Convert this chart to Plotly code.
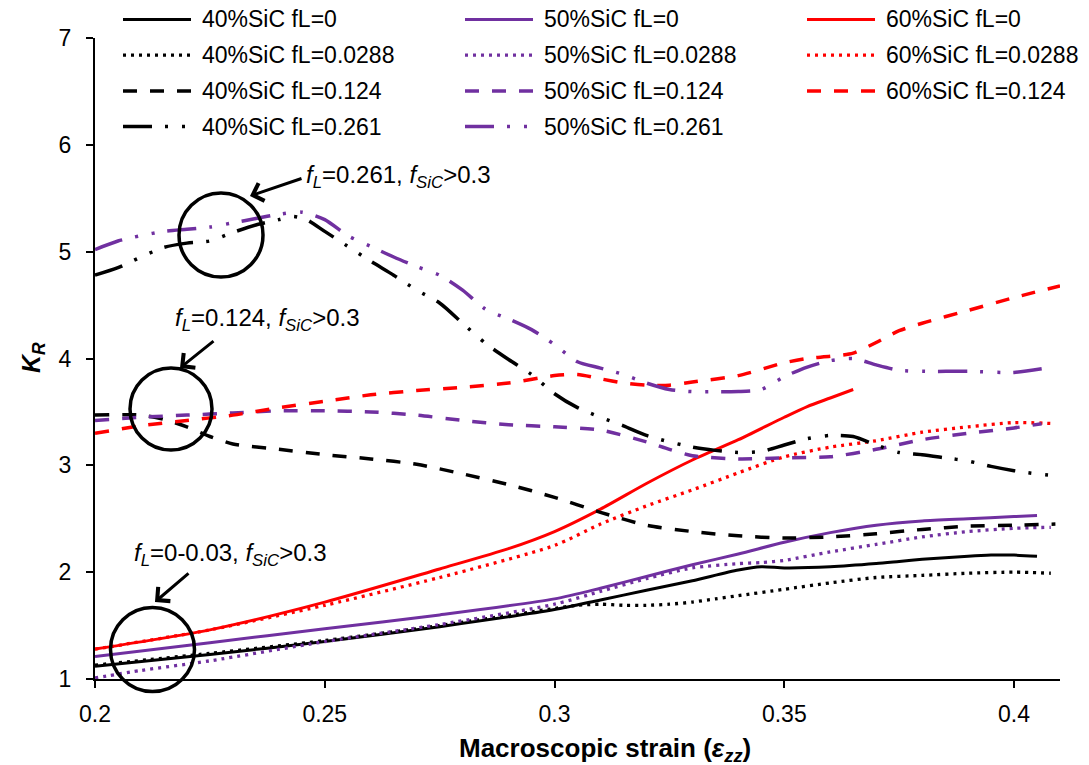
import plotly.graph_objects as go

# ---------------------------------------------------------------------------
# Axis settings
# ---------------------------------------------------------------------------
X_RANGE = [0.2, 0.41]
Y_RANGE = [1, 7]
X_TICKS = [0.2, 0.25, 0.3, 0.35, 0.4]
X_TICK_TEXT = ["0.2", "0.25", "0.3", "0.35", "0.4"]
Y_TICKS = [1, 2, 3, 4, 5, 6, 7]

# ---------------------------------------------------------------------------
# K_R versus macroscopic strain, one pair of arrays per curve
# ---------------------------------------------------------------------------
# 40% SiC
x_40_f0 = [0.2, 0.225, 0.25, 0.275, 0.3, 0.31, 0.32, 0.33, 0.34, 0.345, 0.35,
           0.36, 0.37, 0.375, 0.38, 0.39, 0.395, 0.4, 0.405]
k_40_f0 = [1.12, 1.23, 1.35, 1.49, 1.65, 1.74, 1.83, 1.92, 2.02, 2.05, 2.04,
           2.05, 2.08, 2.10, 2.12, 2.15, 2.16, 2.16, 2.15]

x_40_f0288 = [0.2, 0.225, 0.25, 0.275, 0.3, 0.305, 0.31, 0.315, 0.32, 0.325,
              0.33, 0.335, 0.34, 0.35, 0.36, 0.37, 0.38, 0.39, 0.4, 0.408]
k_40_f0288 = [1.13, 1.24, 1.36, 1.50, 1.66, 1.69, 1.70, 1.69, 1.69, 1.70,
              1.72, 1.75, 1.78, 1.84, 1.90, 1.95, 1.97, 1.99, 2.00, 1.99]

x_40_f124 = [0.2, 0.21, 0.215, 0.22, 0.225, 0.23, 0.24, 0.25, 0.26, 0.27, 0.28,
             0.29, 0.3, 0.31, 0.32, 0.33, 0.34, 0.35, 0.36, 0.37, 0.38, 0.39,
             0.4, 0.409]
k_40_f124 = [3.47, 3.47, 3.43, 3.36, 3.27, 3.20, 3.15, 3.10, 3.06, 3.01, 2.92,
             2.82, 2.70, 2.56, 2.44, 2.38, 2.34, 2.32, 2.33, 2.36, 2.40, 2.43,
             2.44, 2.45]

x_40_f261 = [0.2, 0.205, 0.21, 0.215, 0.22, 0.225, 0.23, 0.235, 0.24, 0.243,
             0.246, 0.25, 0.255, 0.26, 0.265, 0.27, 0.275, 0.28, 0.285, 0.29,
             0.295, 0.3, 0.305, 0.31, 0.315, 0.32, 0.325, 0.33, 0.335, 0.34,
             0.345, 0.35, 0.355, 0.36, 0.365, 0.37, 0.375, 0.38, 0.385, 0.39,
             0.395, 0.4, 0.405, 0.41]
k_40_f261 = [4.78, 4.85, 4.95, 5.04, 5.08, 5.10, 5.18, 5.25, 5.30, 5.33,
             5.30, 5.19, 5.05, 4.91, 4.78, 4.64, 4.52, 4.33, 4.14, 3.99,
             3.85, 3.67, 3.54, 3.45, 3.37, 3.28, 3.22, 3.17, 3.14, 3.12,
             3.13, 3.19, 3.25, 3.28, 3.27, 3.19, 3.12, 3.10, 3.07, 3.04,
             2.99, 2.95, 2.92, 2.90]

# 50% SiC
x_50_f0 = [0.2, 0.225, 0.25, 0.275, 0.3, 0.31, 0.32, 0.33, 0.34, 0.35, 0.36,
           0.37, 0.38, 0.39, 0.4, 0.405]
k_50_f0 = [1.21, 1.34, 1.47, 1.60, 1.75, 1.85, 1.96, 2.07, 2.17, 2.28, 2.37,
           2.44, 2.48, 2.50, 2.52, 2.53]

x_50_f0288 = [0.2, 0.21, 0.225, 0.25, 0.275, 0.3, 0.31, 0.32, 0.33, 0.34,
              0.345, 0.35, 0.36, 0.37, 0.38, 0.39, 0.4, 0.408]
k_50_f0288 = [1.01, 1.08, 1.17, 1.35, 1.51, 1.70, 1.82, 1.94, 2.04, 2.08,
              2.09, 2.11, 2.19, 2.26, 2.33, 2.38, 2.41, 2.42]

x_50_f124 = [0.2, 0.21, 0.22, 0.23, 0.24, 0.25, 0.26, 0.27, 0.28, 0.29, 0.3,
             0.31, 0.32, 0.325, 0.33, 0.34, 0.35, 0.36, 0.37, 0.38, 0.39, 0.4,
             0.406]
k_50_f124 = [3.42, 3.45, 3.47, 3.49, 3.51, 3.51, 3.50, 3.47, 3.42, 3.38, 3.36,
             3.33, 3.22, 3.15, 3.09, 3.06, 3.07, 3.08, 3.15, 3.24, 3.30, 3.35,
             3.39]

x_50_f261 = [0.2, 0.205, 0.21, 0.215, 0.22, 0.225, 0.23, 0.235, 0.24, 0.245,
             0.25, 0.255, 0.26, 0.265, 0.27, 0.275, 0.28, 0.285, 0.29, 0.295,
             0.3, 0.305, 0.31, 0.315, 0.32, 0.325, 0.33, 0.335, 0.34, 0.345,
             0.35, 0.355, 0.36, 0.365, 0.37, 0.375, 0.38, 0.39, 0.4, 0.407]
k_50_f261 = [5.02, 5.10, 5.15, 5.19, 5.21, 5.23, 5.27, 5.31, 5.35, 5.37,
             5.30, 5.15, 5.05, 4.95, 4.86, 4.78, 4.64, 4.46, 4.37, 4.27,
             4.13, 3.97, 3.91, 3.85, 3.77, 3.71, 3.69, 3.69, 3.69, 3.71,
             3.83, 3.92, 3.98, 4.00, 3.94, 3.89, 3.88, 3.88, 3.87, 3.91]

# 60% SiC
x_60_f0 = [0.2, 0.225, 0.25, 0.275, 0.29, 0.3, 0.31, 0.32, 0.33, 0.34, 0.35,
           0.355, 0.36, 0.365]
k_60_f0 = [1.28, 1.46, 1.72, 2.03, 2.22, 2.38, 2.59, 2.83, 3.05, 3.24, 3.45,
           3.55, 3.63, 3.71]

x_60_f0288 = [0.2, 0.225, 0.25, 0.275, 0.3, 0.31, 0.32, 0.33, 0.34, 0.35,
              0.36, 0.37, 0.38, 0.39, 0.4, 0.409]
k_60_f0288 = [1.28, 1.46, 1.69, 1.95, 2.25, 2.45, 2.62, 2.77, 2.93, 3.08,
              3.17, 3.23, 3.31, 3.36, 3.40, 3.39]

x_60_f124 = [0.2, 0.21, 0.22, 0.23, 0.24, 0.25, 0.26, 0.27, 0.28, 0.29, 0.3,
             0.305, 0.31, 0.315, 0.32, 0.325, 0.33, 0.34, 0.35, 0.355, 0.36,
             0.365, 0.37, 0.375, 0.38, 0.39, 0.4, 0.41]
k_60_f124 = [3.30, 3.37, 3.42, 3.47, 3.54, 3.60, 3.66, 3.70, 3.73, 3.77, 3.84,
             3.85, 3.81, 3.77, 3.75, 3.75, 3.78, 3.84, 3.96, 4.00, 4.02,
             4.05, 4.15, 4.26, 4.33, 4.45, 4.57, 4.68]

# ---------------------------------------------------------------------------
# Styling
# ---------------------------------------------------------------------------
BLACK = "#000000"
PURPLE = "#7030A0"
RED = "#FF0000"
FONT = "Arial, Liberation Sans, sans-serif"

LINE_STYLES = {
    "solid": dict(dash="solid", width=3),
    "dot": dict(dash="3px,5px", width=3.3),
    "dash": dict(dash="14px,13px", width=3.5),
    "dashdotdot": dict(dash="29px,13px,3px,14px,3px,13px", width=3.5),
}

# (label, x, y, colour, style, legend column, legend row)
SERIES = [
    ("40%SiC fL=0", x_40_f0, k_40_f0, BLACK, "solid", 0, 0),
    ("50%SiC fL=0", x_50_f0, k_50_f0, PURPLE, "solid", 1, 0),
    ("60%SiC fL=0", x_60_f0, k_60_f0, RED, "solid", 2, 0),
    ("40%SiC fL=0.0288", x_40_f0288, k_40_f0288, BLACK, "dot", 0, 1),
    ("50%SiC fL=0.0288", x_50_f0288, k_50_f0288, PURPLE, "dot", 1, 1),
    ("60%SiC fL=0.0288", x_60_f0288, k_60_f0288, RED, "dot", 2, 1),
    ("40%SiC fL=0.124", x_40_f124, k_40_f124, BLACK, "dash", 0, 2),
    ("50%SiC fL=0.124", x_50_f124, k_50_f124, PURPLE, "dash", 1, 2),
    ("60%SiC fL=0.124", x_60_f124, k_60_f124, RED, "dash", 2, 2),
    ("40%SiC fL=0.261", x_40_f261, k_40_f261, BLACK, "dashdotdot", 0, 3),
    ("50%SiC fL=0.261", x_50_f261, k_50_f261, PURPLE, "dashdotdot", 1, 3),
]

# Figure geometry (pixels)
WIDTH, HEIGHT = 1089, 765
PLOT_L, PLOT_T, PLOT_R, PLOT_B = 95, 38, 1060, 679
PLOT_W = PLOT_R - PLOT_L
PLOT_H = PLOT_B - PLOT_T


def px(xp):
    """Horizontal pixel position -> paper fraction."""
    return (xp - PLOT_L) / PLOT_W


def py(yp):
    """Vertical pixel position (from top) -> paper fraction."""
    return (PLOT_B - yp) / PLOT_H


fig = go.Figure()

for name, xs, ys, color, style, _, _ in SERIES:
    st = LINE_STYLES[style]
    fig.add_trace(go.Scatter(
        x=xs, y=ys, name=name, mode="lines",
        line=dict(color=color, width=st["width"], dash=st["dash"],
                  shape="spline", smoothing=0.7),
        showlegend=False, hoverinfo="x+y+name",
    ))

shapes = []
annotations = []

# Legend: three columns of line samples with labels
LEG_COL_X = [123, 465, 807]
LEG_ROW_Y = [19.5, 55.2, 90.9, 126.6]
LEG_SAMPLE = 68
LEG_TEXT_GAP = 77
for name, _, _, color, style, col, row in SERIES:
    st = LINE_STYLES[style]
    x0 = LEG_COL_X[col]
    yy = LEG_ROW_Y[row]
    shapes.append(dict(
        type="line", xref="paper", yref="paper",
        x0=px(x0), x1=px(x0 + LEG_SAMPLE), y0=py(yy), y1=py(yy),
        line=dict(color=color, width=st["width"], dash=st["dash"]),
    ))
    annotations.append(dict(
        text=name, xref="paper", yref="paper",
        x=px(x0 + LEG_TEXT_GAP), y=py(yy), xanchor="left", yanchor="middle",
        showarrow=False, font=dict(family=FONT, size=23, color="black"),
    ))

# Circled groups with pointer arrows and notes
NOTES = [
    # circle centre, radius, arrow head, arrow tail, text left/centre, text
    ((221, 235), 42, (250, 196), (303, 178), (304, 176),
     "<i>f</i><sub><i>L</i></sub>=0.261, <i>f</i><sub><i>SiC</i></sub>>0.3"),
    ((171, 409), 41, (180, 368), (215, 340), (173, 319),
     "<i>f</i><sub><i>L</i></sub>=0.124, <i>f</i><sub><i>SiC</i></sub>>0.3"),
    ((152.5, 649.5), 42, (155, 602), (190, 572), (132, 554),
     "<i>f</i><sub><i>L</i></sub>=0-0.03, <i>f</i><sub><i>SiC</i></sub>>0.3"),
]
for (cx, cy), r, (hx, hy), (tx, ty), (lx, ly), text in NOTES:
    shapes.append(dict(
        type="circle", xref="paper", yref="paper",
        xsizemode="pixel", ysizemode="pixel",
        xanchor=px(cx), yanchor=py(cy),
        x0=-r, x1=r, y0=-r, y1=r,
        line=dict(color="black", width=3.5),
    ))
    annotations.append(dict(
        text="", xref="paper", yref="paper", x=px(hx), y=py(hy),
        ax=tx - hx, ay=ty - hy, showarrow=True,
        arrowhead=4, arrowsize=1.2, arrowwidth=3, arrowcolor="black",
    ))
    annotations.append(dict(
        text=text, xref="paper", yref="paper", x=px(lx), y=py(ly),
        xanchor="left", yanchor="middle", showarrow=False,
        font=dict(family=FONT, size=24, color="black"),
    ))

# Axis titles
annotations.append(dict(
    text="<b>Macroscopic strain (<i>ε</i><sub><i>zz</i></sub>)</b>",
    xref="paper", yref="paper", x=px(605), y=py(749),
    xanchor="center", yanchor="middle", showarrow=False,
    font=dict(family=FONT, size=26, color="black"),
))
annotations.append(dict(
    text="<b><i>K</i><sub><i>R</i></sub></b>",
    xref="paper", yref="paper", x=px(33), y=py(358),
    xanchor="center", yanchor="middle", showarrow=False, textangle=-90,
    font=dict(family=FONT, size=25, color="black"),
))

axis_common = dict(
    showline=True, linecolor="black", linewidth=2,
    ticks="outside", ticklen=7, tickwidth=2, tickcolor="black",
    showgrid=False, zeroline=False, mirror=False,
    tickfont=dict(family=FONT, size=23, color="black"),
)

fig.update_layout(
    width=WIDTH, height=HEIGHT,
    margin=dict(l=PLOT_L, r=WIDTH - PLOT_R, t=PLOT_T, b=HEIGHT - PLOT_B,
                autoexpand=False),
    paper_bgcolor="white", plot_bgcolor="white",
    xaxis=dict(range=X_RANGE, tickvals=X_TICKS, ticktext=X_TICK_TEXT,
               ticklabelstandoff=6, **axis_common),
    yaxis=dict(range=Y_RANGE, tickvals=Y_TICKS, ticklabelstandoff=10,
               **axis_common),
    shapes=shapes,
    annotations=annotations,
    showlegend=False,
    font=dict(family=FONT, color="black"),
)

fig.write_html("out.html")
